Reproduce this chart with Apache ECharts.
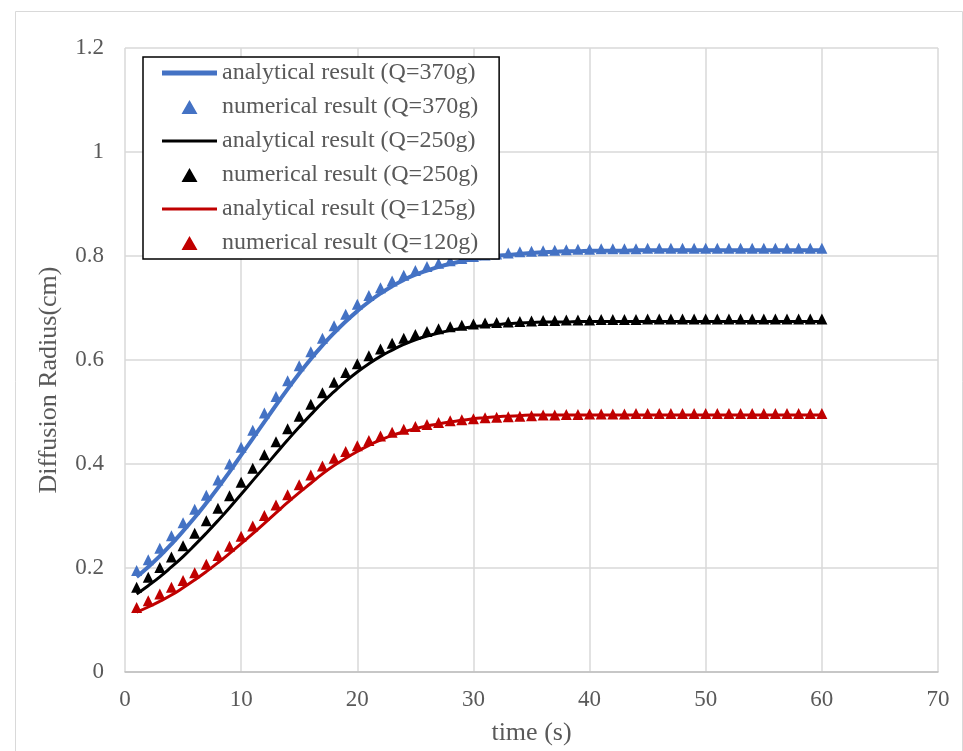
<!DOCTYPE html>
<html>
<head>
<meta charset="utf-8">
<script src="https://cdn.jsdelivr.net/npm/echarts@6/dist/echarts.min.js"></script>
<style>
  html, body { margin: 0; padding: 0; background: #fff; }
  #chart { width: 963px; height: 751px; }
</style>
</head>
<body>
<div id="chart"></div>
<script>
// 时间 (s)
const times = [1,2,3,4,5,6,7,8,9,10,11,12,13,14,15,16,17,18,19,20,
  21,22,23,24,25,26,27,28,29,30,31,32,33,34,35,36,37,38,39,40,
  41,42,43,44,45,46,47,48,49,50,51,52,53,54,55,56,57,58,59,60];

// Q=370g
const ana370 = [0.183,0.202,0.223,0.246,0.271,0.297,0.325,0.354,0.385,0.417,
  0.449,0.481,0.513,0.544,0.574,0.602,0.628,0.652,0.674,0.694,
  0.712,0.728,0.742,0.754,0.764,0.772,0.779,0.785,0.790,0.794,
  0.797,0.800,0.802,0.804,0.806,0.807,0.808,0.809,0.809,0.810,
  0.810,0.810,0.810,0.811,0.811,0.811,0.811,0.811,0.811,0.811,
  0.811,0.811,0.811,0.811,0.811,0.811,0.811,0.811,0.811,0.811];
const num370 = [0.195,0.216,0.238,0.262,0.287,0.313,0.340,0.369,0.400,0.432,
  0.465,0.498,0.530,0.560,0.589,0.616,0.642,0.666,0.688,0.707,
  0.724,0.739,0.752,0.763,0.772,0.780,0.786,0.791,0.795,0.799,
  0.802,0.804,0.806,0.808,0.809,0.810,0.811,0.812,0.813,0.813,
  0.814,0.814,0.814,0.814,0.815,0.815,0.815,0.815,0.815,0.815,
  0.815,0.815,0.815,0.815,0.815,0.815,0.815,0.815,0.815,0.815];

// Q=250g
const ana250 = [0.150,0.166,0.183,0.202,0.222,0.244,0.267,0.291,0.316,0.342,
  0.368,0.394,0.420,0.446,0.471,0.495,0.518,0.539,0.559,0.577,
  0.593,0.607,0.619,0.630,0.639,0.646,0.652,0.657,0.661,0.664,
  0.666,0.668,0.670,0.671,0.672,0.673,0.673,0.673,0.674,0.674,
  0.674,0.674,0.674,0.674,0.674,0.674,0.674,0.674,0.674,0.674,
  0.674,0.674,0.674,0.674,0.674,0.674,0.674,0.674,0.674,0.674];
const num250 = [0.163,0.182,0.201,0.221,0.243,0.267,0.291,0.315,0.339,0.365,
  0.392,0.418,0.443,0.468,0.492,0.515,0.537,0.557,0.576,0.593,
  0.608,0.621,0.632,0.642,0.649,0.655,0.660,0.664,0.667,0.669,
  0.671,0.672,0.673,0.674,0.675,0.676,0.676,0.677,0.677,0.677,
  0.678,0.678,0.678,0.678,0.679,0.679,0.679,0.679,0.679,0.679,
  0.679,0.679,0.679,0.679,0.679,0.679,0.679,0.679,0.679,0.679];

// Q=125g / 120g
const ana125 = [0.115,0.125,0.136,0.148,0.162,0.177,0.193,0.210,0.228,0.247,
  0.266,0.286,0.306,0.326,0.345,0.363,0.381,0.397,0.411,0.424,
  0.436,0.446,0.455,0.462,0.468,0.473,0.477,0.481,0.484,0.487,
  0.489,0.491,0.492,0.493,0.494,0.494,0.494,0.494,0.494,0.494,
  0.494,0.494,0.494,0.494,0.494,0.494,0.494,0.494,0.494,0.494,
  0.494,0.494,0.494,0.494,0.494,0.494,0.494,0.494,0.494,0.494];
const num120 = [0.124,0.137,0.150,0.163,0.176,0.191,0.207,0.224,0.242,0.261,
  0.281,0.301,0.321,0.341,0.360,0.379,0.396,0.411,0.424,0.435,
  0.445,0.454,0.461,0.467,0.472,0.476,0.480,0.483,0.485,0.487,
  0.489,0.490,0.491,0.492,0.493,0.494,0.494,0.495,0.495,0.496,
  0.496,0.496,0.496,0.497,0.497,0.497,0.497,0.497,0.497,0.497,
  0.497,0.497,0.497,0.497,0.497,0.497,0.497,0.497,0.497,0.497];

function pairs(ys) {
  return times.map(function (t, i) { return [t, ys[i]]; });
}

const font = "'Liberation Serif', 'Times New Roman', serif";
const grey = '#595959';

// legend icons: corner points keep the 55x14 box so the shapes are not stretched
const frame = 'M0,0 L0.01,0 L0,0.01 Z M55,14 L54.99,14 L55,13.99 Z ';
const iconLineThick = 'path://' + frame + 'M0,4.5 L55,4.5 L55,9.5 L0,9.5 Z';
const iconLine = 'path://' + frame + 'M0,5.5 L55,5.5 L55,8.5 L0,8.5 Z';
const iconTri = 'path://' + frame + 'M19.5,14 L27.5,0 L35.5,14 Z';

function lineSeries(name, ys, color, width) {
  return {
    name: name, type: 'line', data: pairs(ys),
    symbol: 'none', smooth: true,
    lineStyle: { color: color, width: width },
    itemStyle: { color: color }
  };
}
function triSeries(name, ys, color) {
  return {
    name: name, type: 'scatter', data: pairs(ys),
    symbol: 'triangle', symbolSize: 11,
    itemStyle: { color: color, opacity: 1 }
  };
}

let myChart = echarts.init(document.getElementById('chart'));

option = {
  backgroundColor: '#fff',
  animation: false,
  graphic: [{
    type: 'rect', left: 13, top: 9, z: -10,
    shape: { width: 947, height: 760 },
    style: { fill: 'none', stroke: '#d9d9d9', lineWidth: 1 }
  }],
  grid: { left: 125, right: 25, top: 48, bottom: 76 },
  legend: {
    orient: 'vertical', left: 143, top: 57,
    backgroundColor: '#fff', borderColor: '#000', borderWidth: 1.5,
    padding: [4, 21, 4, 19],
    itemWidth: 55, itemHeight: 14, itemGap: 10,
    textStyle: { fontFamily: font, fontSize: 24, color: grey },
    data: [
      { name: 'analytical result (Q=370g)', icon: iconLineThick },
      { name: 'numerical result (Q=370g)', icon: iconTri },
      { name: 'analytical result (Q=250g)', icon: iconLine },
      { name: 'numerical result (Q=250g)', icon: iconTri },
      { name: 'analytical result (Q=125g)', icon: iconLine },
      { name: 'numerical result (Q=120g)', icon: iconTri }
    ]
  },
  xAxis: {
    type: 'value', min: 0, max: 70, interval: 10,
    name: 'time (s)', nameLocation: 'middle', nameGap: 48,
    nameTextStyle: { fontFamily: font, fontSize: 26, color: grey },
    axisLine: { onZero: false, lineStyle: { color: '#bfbfbf', width: 1.5 } },
    axisTick: { show: false },
    axisLabel: { fontFamily: font, fontSize: 23, color: grey, margin: 16 },
    splitLine: { show: true, lineStyle: { color: '#d9d9d9', width: 1.5 } }
  },
  yAxis: {
    type: 'value', min: 0, max: 1.2, interval: 0.2,
    name: 'Diffusion Radius(cm)', nameLocation: 'middle', nameGap: 63,
    nameTextStyle: { fontFamily: font, fontSize: 26, color: grey, padding: [0, 40, 0, 0] },
    axisLine: { show: false },
    axisTick: { show: false },
    axisLabel: { fontFamily: font, fontSize: 23, color: grey, margin: 21 },
    splitLine: { show: true, lineStyle: { color: '#d9d9d9', width: 1.5 } }
  },
  series: [
    lineSeries('analytical result (Q=370g)', ana370, '#4472C4', 4),
    triSeries('numerical result (Q=370g)', num370, '#4472C4'),
    lineSeries('analytical result (Q=250g)', ana250, '#000000', 3),
    triSeries('numerical result (Q=250g)', num250, '#000000'),
    lineSeries('analytical result (Q=125g)', ana125, '#C00000', 3),
    triSeries('numerical result (Q=120g)', num120, '#C00000')
  ]
};

myChart.setOption(option);
</script>
</body>
</html>
